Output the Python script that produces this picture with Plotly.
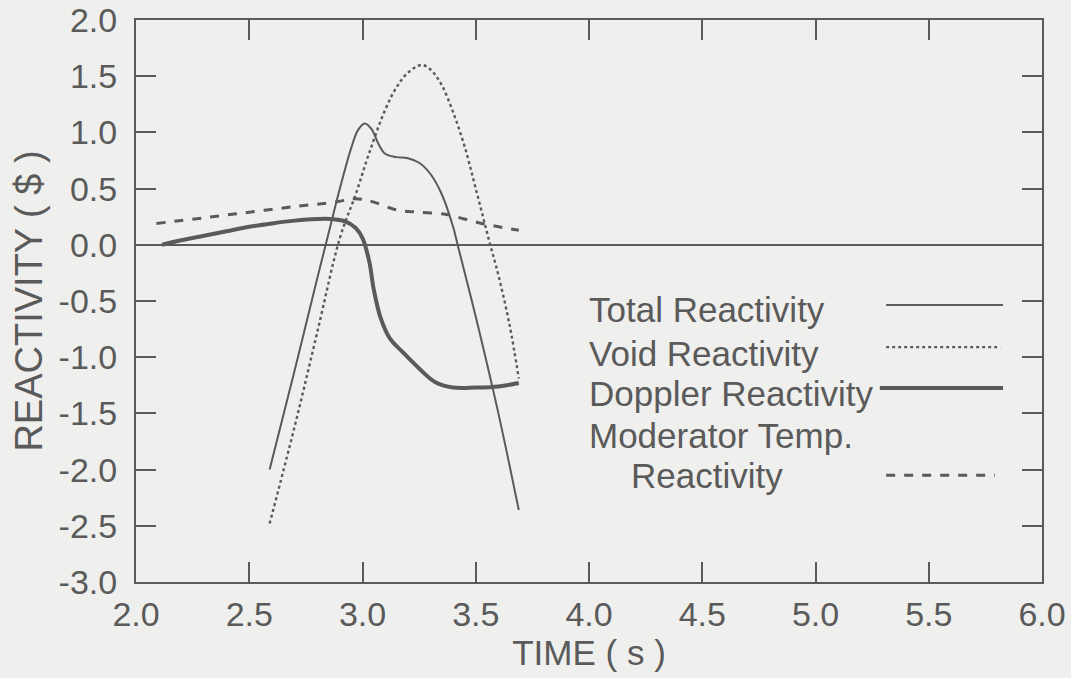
import plotly.graph_objects as go

# ---- data ----
total_t = [2.59, 2.70, 2.80, 2.85, 2.90, 2.95, 2.98, 3.01, 3.04, 3.07, 3.10, 3.15, 3.20, 3.25, 3.30, 3.35, 3.40, 3.42, 3.50, 3.60, 3.69]
total_r = [-2.00, -1.12, -0.30, 0.10, 0.50, 0.86, 1.02, 1.08, 1.03, 0.90, 0.81, 0.78, 0.77, 0.73, 0.63, 0.45, 0.16, 0.00, -0.64, -1.50, -2.36]

void_t = [2.59, 2.70, 2.80, 2.90, 2.97, 3.03, 3.10, 3.15, 3.20, 3.26, 3.30, 3.35, 3.40, 3.45, 3.50, 3.56, 3.60, 3.65, 3.69]
void_r = [-2.48, -1.62, -0.78, 0.06, 0.45, 0.82, 1.20, 1.40, 1.53, 1.60, 1.56, 1.42, 1.18, 0.88, 0.50, 0.03, -0.27, -0.72, -1.19]

doppler_t = [2.115, 2.20, 2.30, 2.40, 2.50, 2.60, 2.70, 2.80, 2.86, 2.92, 2.97, 3.00, 3.03, 3.05, 3.08, 3.12, 3.18, 3.25, 3.32, 3.40, 3.50, 3.60, 3.69]
doppler_r = [0.00, 0.04, 0.08, 0.12, 0.16, 0.19, 0.215, 0.23, 0.23, 0.21, 0.15, 0.06, -0.15, -0.40, -0.65, -0.83, -0.96, -1.10, -1.22, -1.27, -1.27, -1.26, -1.23]

mod_t = [2.09, 2.30, 2.50, 2.70, 2.88, 2.97, 3.05, 3.15, 3.25, 3.37, 3.45, 3.55, 3.69]
mod_r = [0.19, 0.24, 0.29, 0.34, 0.38, 0.41, 0.38, 0.31, 0.29, 0.27, 0.23, 0.18, 0.13]

x_ticks = [2.0, 2.5, 3.0, 3.5, 4.0, 4.5, 5.0, 5.5, 6.0]
y_ticks = [2.0, 1.5, 1.0, 0.5, 0.0, -0.5, -1.0, -1.5, -2.0, -2.5, -3.0]

legend_labels = ["Total Reactivity", "Void Reactivity", "Doppler Reactivity", "Moderator Temp.", "Reactivity"]

INK = "#5a5a5a"
BG = "#efefed"
FONT = "Liberation Sans, Arial, sans-serif"

fig = go.Figure()
fig.add_trace(go.Scatter(x=total_t, y=total_r, mode="lines", line=dict(color=INK, width=2), line_shape="spline", showlegend=False))
fig.add_trace(go.Scatter(x=void_t, y=void_r, mode="lines", line=dict(color=INK, width=2.4, dash="dot"), line_shape="spline", showlegend=False))
fig.add_trace(go.Scatter(x=doppler_t, y=doppler_r, mode="lines", line=dict(color=INK, width=4), line_shape="spline", showlegend=False))
fig.add_trace(go.Scatter(x=mod_t, y=mod_r, mode="lines", line=dict(color=INK, width=3, dash="dash"), line_shape="spline", showlegend=False))

axis_common = dict(
    showgrid=False, ticks="inside", ticklen=20, tickwidth=2, tickcolor=INK,
    showline=True, linecolor=INK, linewidth=2, mirror="ticks", automargin=False,
    tickfont=dict(family=FONT, size=34, color=INK),
)

fig.update_xaxes(range=[2.0, 6.0], tickvals=x_ticks, ticktext=[f"{v:.1f}" for v in x_ticks],
                 zeroline=False, ticklabelstandoff=1,
                 title=dict(text="TIME ( s )", font=dict(family=FONT, size=35, color=INK), standoff=6),
                 **axis_common)
fig.update_yaxes(range=[-3.0, 2.0], tickvals=y_ticks, ticktext=[f"{v:.1f}" for v in y_ticks],
                 zeroline=True, zerolinecolor=INK, zerolinewidth=1.5, ticklabelstandoff=10,
                 title=dict(text="REACTIVITY ( $ )", font=dict(family=FONT, size=38, color=INK), standoff=4),
                 **axis_common)

# legend drawn as text + line samples (text left, sample right as in the original)
text_pos = [(0.498, 0.484), (0.498, 0.407), (0.498, 0.336), (0.498, 0.260), (0.544, 0.189)]
for label, (xp, yp) in zip(legend_labels, text_pos):
    fig.add_annotation(x=xp, y=yp, xref="paper", yref="paper", text=label, showarrow=False,
                       xanchor="left", yanchor="middle",
                       font=dict(family=FONT, size=35, color=INK))

samples = [
    (0.828, 0.957, 0.493, dict(color=INK, width=2)),
    (0.828, 0.954, 0.418, dict(color=INK, width=2.4, dash="dot")),
    (0.821, 0.957, 0.345, dict(color=INK, width=4)),
    (0.828, 0.948, 0.190, dict(color=INK, width=3, dash="dash")),
]
for x0, x1, yy, ln in samples:
    fig.add_shape(type="line", xref="paper", yref="paper", x0=x0, x1=x1, y0=yy, y1=yy, line=ln)

fig.update_layout(
    width=1071, height=678,
    margin=dict(l=136, r=29, t=20, b=96),
    paper_bgcolor=BG, plot_bgcolor=BG,
    font=dict(family=FONT, color=INK),
)

fig.write_html("out.html", config={"displayModeBar": False},
               post_script="document.body.style.margin='0';document.body.style.background='%s';" % BG)
